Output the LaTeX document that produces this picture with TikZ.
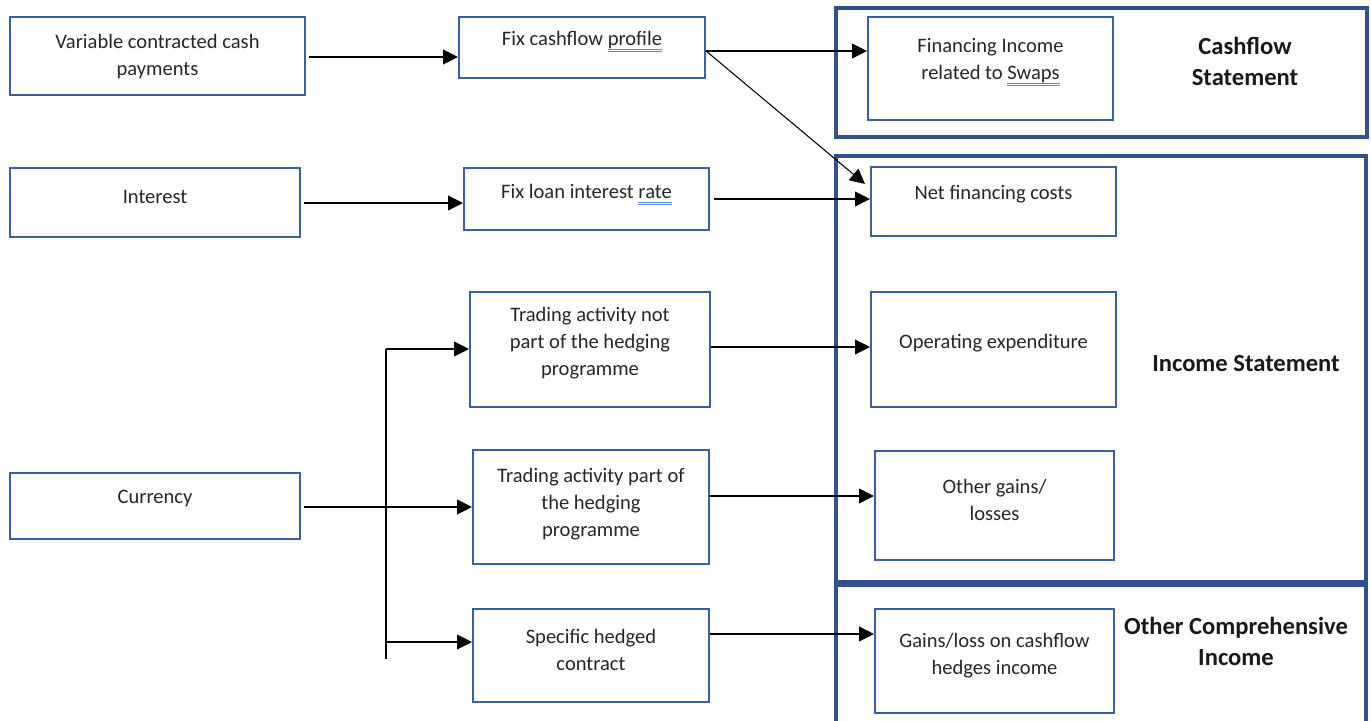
\documentclass[tikz,border=0pt]{standalone}
\usepackage{fontspec}
\setmainfont{Carlito}
\usetikzlibrary{arrows.meta,fit}
\definecolor{boxblue}{RGB}{60,96,158}
\definecolor{outblue}{RGB}{47,82,143}
\definecolor{ulblue}{RGB}{95,135,225}
\newcommand\dul[1]{\leavevmode\setbox0=\hbox{#1}\rlap{\color{ulblue}\rule[-2.2pt]{\wd0}{0.35pt}\hskip-\wd0\rule[-3.4pt]{\wd0}{0.35pt}}\box0}
\begin{document}
\begin{tikzpicture}[x=0.02cm,y=-0.02cm,
  box/.style={draw=boxblue,line width=1.2pt,inner sep=0pt},
  outer/.style={draw=outblue,line width=1.8pt,inner sep=0pt},
  txt/.style={font=\fontsize{11.7}{15.3}\selectfont,align=center,text=black!85,inner sep=0pt},
  lbl/.style={font=\fontsize{14}{18}\selectfont\bfseries,align=center,text=black!90,inner sep=0pt},
  arr/.style={-{Triangle[length=8.5pt,width=8.5pt]},line width=0.6pt},
  bus/.style={line width=0.6pt}]
\useasboundingbox (0,0) rectangle (1371,720);
% outer containers
\node[outer,fit={(836,8) (1367,137)}] (cfs) {};
\node[outer,fit={(836,156) (1366,582)}] (ins) {};
\node[outer,fit={(836,585) (1366,730)}] (oci) {};
\node[lbl] (cfsl) at (1245,61.5) {Cashflow\\Statement};
\node[lbl] (insl) at (1246,364) {Income Statement};
\node[lbl] (ocil) at (1236,641.5) {Other Comprehensive\\Income};
% boxes
\node[box,fit={(10,17) (305,95)}] (a) {};
\node[txt] (at) at (157.5,56.5) {Variable contracted cash\\payments};
\node[box,fit={(459,17) (705,78)}] (b) {};
\node[txt] (bt) at (582,41.5) {Fix cashflow \dul{profile}};
\node[box,fit={(868,17) (1113,120)}] (c) {};
\node[txt] (ct) at (990.5,62) {Financing Income\\related to \dul{Swaps}};
\node[box,fit={(10,168) (300,237)}] (d) {};
\node[txt] (dt) at (155,196.5) {Interest};
\node[box,fit={(464,168) (709,230)}] (e) {};
\node[txt] (et) at (586.5,194.5) {Fix loan interest \dul{rate}};
\node[box,fit={(871,167) (1116,236)}] (f) {};
\node[txt] (ft) at (993.5,194.5) {Net financing costs};
\node[box,fit={(470,292) (710,407)}] (g) {};
\node[txt] (gt) at (590,343.5) {Trading activity not\\part of the hedging\\programme};
\node[box,fit={(871,292) (1116,407)}] (h) {};
\node[txt] (ht) at (993.5,343.5) {Operating expenditure};
\node[box,fit={(10,473) (300,539)}] (i) {};
\node[txt] (it) at (155,498.5) {Currency};
\node[box,fit={(473,450) (709,564)}] (j) {};
\node[txt] (jt) at (591,504.5) {Trading activity part of\\the hedging\\programme};
\node[box,fit={(875,451) (1114,560)}] (k) {};
\node[txt] (kt) at (994.5,499.5) {Other gains/\\losses};
\node[box,fit={(473,609) (709,702)}] (l) {};
\node[txt] (lt) at (591,649.5) {Specific hedged\\contract};
\node[box,fit={(875,609) (1114,713)}] (m) {};
\node[txt] (mt) at (994.5,656) {Gains/loss on cashflow\\hedges income};
% connectors
\draw[arr] ([xshift=3\pgflinewidth]a.east |- 0,57) -- (b.west |- 0,57);
\draw[arr] (b.east |- 0,51) -- (c.west |- 0,51);
\draw[arr] (b.east |- 0,51) -- ([shift={(-5,18)}]f.north west);
\draw[arr] ([xshift=3\pgflinewidth]d.east |- 0,203) -- (e.west |- 0,203);
\draw[arr] ([xshift=4\pgflinewidth]e.east |- 0,199) -- (f.west |- 0,199);
\draw[arr] (g.east |- 0,347) -- (h.west |- 0,347);
\draw[arr] (j.east |- 0,496) -- (k.west |- 0,496);
\draw[arr] (l.east |- 0,634) -- (m.west |- 0,634);
\coordinate (bt1) at (386,349);
\coordinate (bt2) at (386,659);
\coordinate (bt3) at (386,642);
\draw[bus] (bt1) -- (bt2);
\draw[arr] (bt1) -- (g.west |- bt1);
\draw[arr] (bt3) -- (l.west |- bt3);
\draw[arr] ([xshift=3\pgflinewidth]i.east |- 0,507) -- (j.west |- 0,507);
\end{tikzpicture}
\end{document}
